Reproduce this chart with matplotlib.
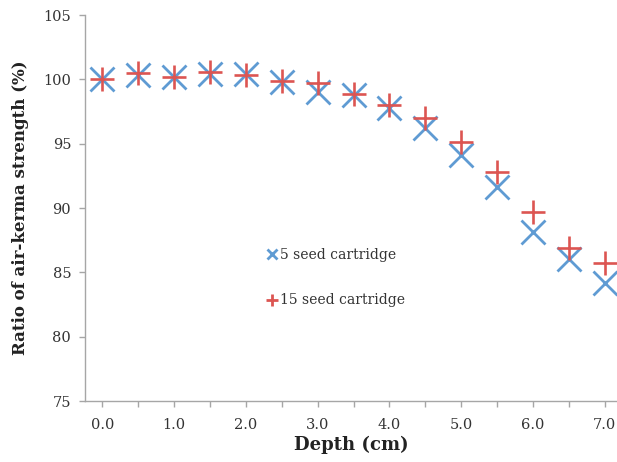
import matplotlib
matplotlib.use("Agg")
import matplotlib.pyplot as plt
from matplotlib.lines import Line2D

depth = [0.0, 0.5, 1.0, 1.5, 2.0, 2.5, 3.0, 3.5, 4.0, 4.5, 5.0, 5.5, 6.0, 6.5, 7.0]
seed5 = [100.0, 100.3, 100.2, 100.4, 100.4, 99.8, 99.0, 98.8, 97.8, 96.2, 94.1, 91.6, 88.1, 86.0, 84.2]
seed15 = [100.0, 100.5, 100.2, 100.6, 100.3, 99.9, 99.7, 98.9, 98.0, 97.0, 95.1, 92.8, 89.7, 86.9, 85.7]
xtick_vals = [0.0, 1.0, 2.0, 3.0, 4.0, 5.0, 6.0, 7.0]
ytick_vals = [75, 80, 85, 90, 95, 100, 105]

plt.rcParams['font.family'] = ['DejaVu Serif']

BLUE = '#5f9bd3'
RED = '#dc5552'
GRAY = '#a6a6a6'

fig = plt.figure(figsize=(6.17, 4.62), dpi=100)
ax = fig.add_axes([0.1378, 0.132, 0.8622, 0.8355])

ax.plot(depth, seed5, linestyle='none', marker='x', markersize=17,
        markeredgewidth=2.0, color=BLUE, label='5 seed cartridge', zorder=2)
ax.plot(depth, seed15, linestyle='none', marker='+', markersize=17,
        markeredgewidth=1.9, color=RED, label='15 seed cartridge', zorder=3)

ax.set_xlim(-0.24, 7.17)
ax.set_ylim(75, 105)
ax.set_xticks(depth, minor=False)
ax.set_xticklabels([f'{v:.1f}' if v in xtick_vals else '' for v in depth])
ax.set_yticks(ytick_vals)
ax.set_yticklabels([str(v) for v in ytick_vals])

for s in ['top', 'right']:
    ax.spines[s].set_visible(False)
for s in ['left', 'bottom']:
    ax.spines[s].set_color(GRAY)
    ax.spines[s].set_linewidth(1.0)

ax.tick_params(axis='both', direction='out', length=4, width=1.0, color=GRAY,
               labelsize=10.5, labelcolor='#333333')
ax.tick_params(axis='x', pad=8)
ax.tick_params(axis='y', pad=6)

ax.set_xlabel('Depth (cm)', fontsize=13, fontweight='bold', color='#222222', labelpad=3)
ax.set_ylabel('Ratio of air-kerma strength (%)', fontsize=12, fontweight='bold',
              color='#222222', labelpad=10)

handles = [Line2D([], [], linestyle='none', marker='x', markersize=7, markeredgewidth=2.0, color=BLUE),
           Line2D([], [], linestyle='none', marker='+', markersize=8, markeredgewidth=2.0, color=RED)]
leg = ax.legend(handles, ['5 seed cartridge', '15 seed cartridge'],
                loc='upper left', bbox_to_anchor=(0.32, 0.43), frameon=False,
                fontsize=10, handlelength=0.6, handletextpad=0.3, labelspacing=2.3)
for t in leg.get_texts():
    t.set_color('#333333')

fig.savefig('out.png', dpi=100, facecolor='white')
